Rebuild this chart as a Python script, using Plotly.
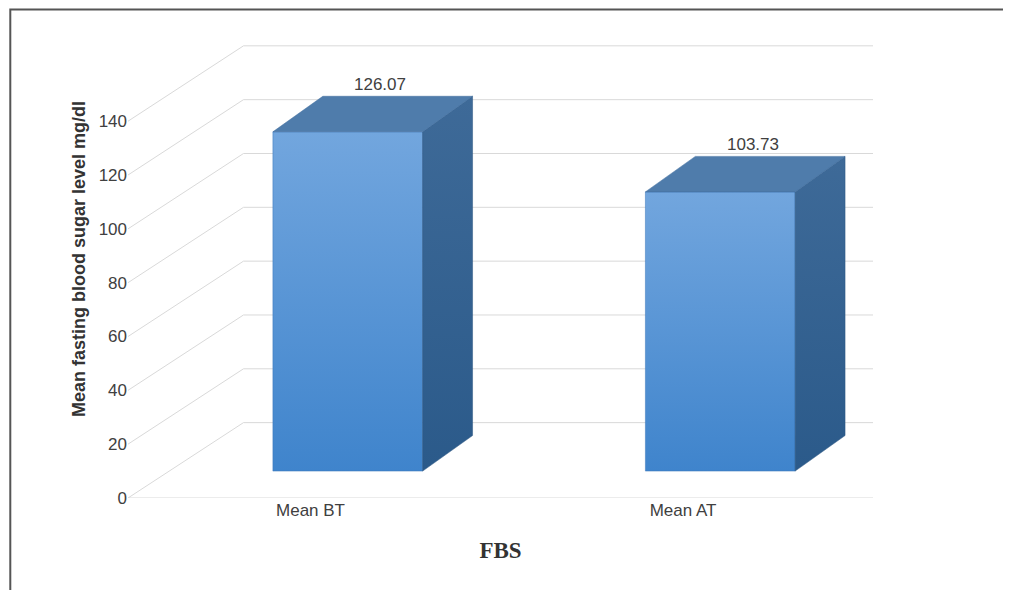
import plotly.graph_objects as go

categories = ["Mean BT", "Mean AT"]
values = [126.07, 103.73]
label_text = ["126.07", "103.73"]
y_ticks = [0, 20, 40, 60, 80, 100, 120, 140]

BASE = 10.0      # floor depth offset (units)
W = 0.402        # bar width (x units)
DX, DY = 0.134, 13.2   # bar depth
XMIN, XMAX = -0.59, 1.41
GDX, GDY = 0.31, 28.0  # grid perspective

fig = go.Figure()
grid = dict(color="#d9d9d9", width=1)
fig.add_trace(go.Scatter(x=[XMIN, XMAX], y=[0, 0], mode="lines", line=grid, hoverinfo="skip"))
for k in y_ticks:
    fig.add_trace(go.Scatter(x=[XMIN, XMIN + GDX, XMAX], y=[k, k + GDY, k + GDY],
                             mode="lines", line=grid, hoverinfo="skip"))

for i, v in enumerate(values):
    x0, x1 = i - W / 2, i + W / 2
    y0, y1 = BASE, BASE + v
    fig.add_trace(go.Scatter(x=[x0, x1, x1, x0, x0], y=[y0, y0, y1, y1, y0], mode="lines",
                             fill="toself", line=dict(width=0.5, color="#3a76b8"),
                             fillgradient=dict(type="vertical",
                                               colorscale=[[0, "#3f84cc"], [1, "#72a6de"]]),
                             hoverinfo="skip"))
    fig.add_trace(go.Scatter(x=[x1, x1 + DX, x1 + DX, x1, x1], y=[y0, y0 + DY, y1 + DY, y1, y0],
                             mode="lines", fill="toself", line=dict(width=0.5, color="#2b5480"),
                             fillgradient=dict(type="vertical",
                                               colorscale=[[0, "#2b5a8a"], [1, "#3e6a98"]]),
                             hoverinfo="skip"))
    fig.add_trace(go.Scatter(x=[x0, x1, x1 + DX, x0 + DX, x0], y=[y1, y1, y1 + DY, y1 + DY, y1],
                             mode="lines", fill="toself", line=dict(width=0.5, color="#3d6b9c"),
                             fillcolor="#4f7cab", hoverinfo="skip"))
    fig.add_annotation(x=i + DX / 2 + 0.02, y=y1 + DY, text=label_text[i], showarrow=False,
                       yanchor="bottom", font=dict(size=17, color="#404040", family="Arial"))

fig.update_layout(
    width=1011, height=590, showlegend=False,
    paper_bgcolor="white", plot_bgcolor="white",
    margin=dict(l=120, r=146, t=12, b=100, autoexpand=False),
    font=dict(family="Arial"),
    xaxis=dict(range=[XMIN, XMAX], tickvals=[-0.1, 0.9], ticktext=categories,
               showgrid=False, zeroline=False, showline=False, ticks="", ticklen=0,
               tickfont=dict(size=17, color="#404040"),
               title=dict(text="<b>FBS</b>", font=dict(family="Liberation Serif", size=23, color="#333"),
                          standoff=22)),
    yaxis=dict(range=[0, 177.6], tickvals=y_ticks, showgrid=False, zeroline=False, showline=False,
               tickfont=dict(size=17, color="#404040"), ticksuffix="    ",
               title=dict(text="<b>Mean fasting blood sugar level mg/dl</b>",
                          font=dict(size=18, color="#333"), standoff=8)),
    shapes=[dict(type="rect", xref="paper", yref="paper", x0=-0.158, x1=1.192, y0=-0.205, y1=1.022,
                 line=dict(color="#555", width=2))],
)
fig.write_html("out.html")
